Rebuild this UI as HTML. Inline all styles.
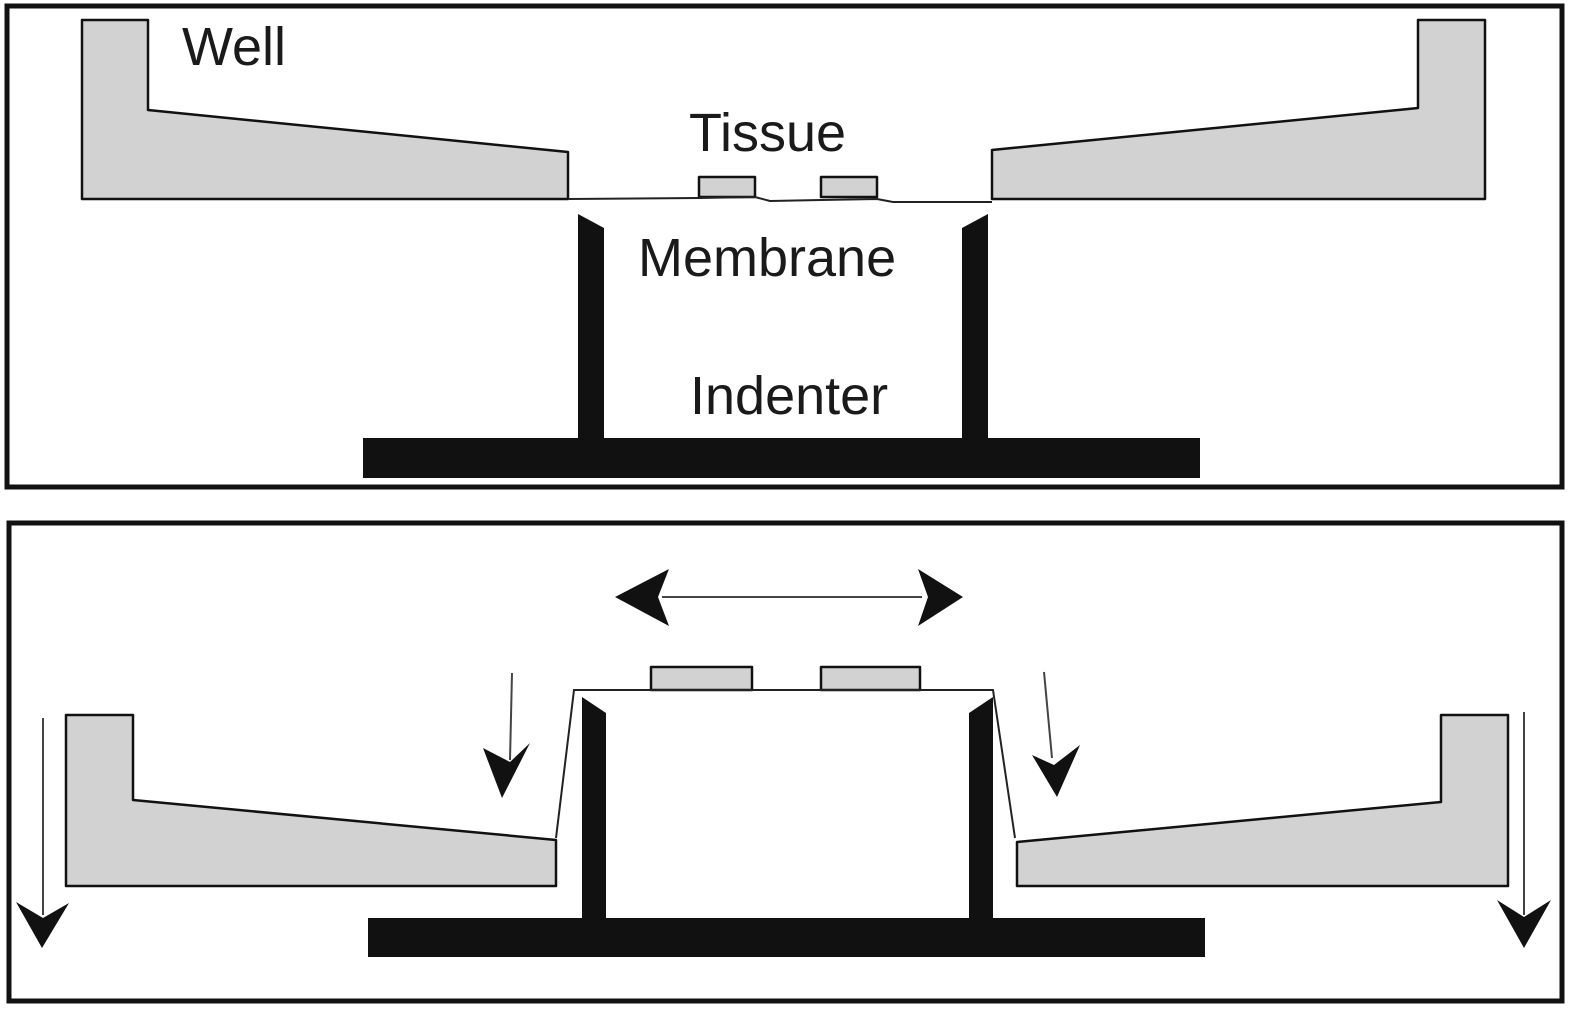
<!DOCTYPE html>
<html><head><meta charset="utf-8"><style>html,body{margin:0;padding:0;background:#fff}svg{display:block}</style></head>
<body>
<svg width="1583" height="1019" viewBox="0 0 1583 1019" xmlns="http://www.w3.org/2000/svg">
<rect x="0" y="0" width="1583" height="1019" fill="#fff"/>
<rect x="7" y="6" width="1555" height="481" fill="none" stroke="#111" stroke-width="5"/>
<rect x="9" y="523" width="1553" height="478" fill="none" stroke="#111" stroke-width="5"/>

<g fill="#d2d2d2" stroke="#111" stroke-width="2.5" stroke-linejoin="round">
<polygon points="82,20 148,20 148,110 568,152 568,199 82,199"/>
<polygon points="1485,20 1418,20 1418,108 992,150 992,199 1485,199"/>
<rect x="699" y="177" width="56" height="20"/>
<rect x="821" y="177" width="56" height="20"/>
</g>
<polyline points="568,199 699,198 755,197 770,201 821,200 877,199 893,202 992,202" fill="none" stroke="#222" stroke-width="2"/>
<g fill="#111">
<polygon points="578,214 604,228 604,440 578,440"/>
<polygon points="988,214 962,228 962,440 988,440"/>
<rect x="363" y="438" width="837" height="40"/>
</g>
<g font-family="Liberation Sans, sans-serif" font-size="54" fill="#1a1a1a">
<text x="182" y="65">Well</text>
<text x="689" y="151">Tissue</text>
<text x="638" y="276">Membrane</text>
<text x="690" y="414">Indenter</text>
</g>

<g fill="#d2d2d2" stroke="#111" stroke-width="2.5" stroke-linejoin="round">
<polygon points="66,715 133,715 133,800 556,840 556,886 66,886"/>
<polygon points="1508,715 1441,715 1441,802 1017,842 1017,886 1508,886"/>
<rect x="651" y="667" width="101" height="23"/>
<rect x="821" y="667" width="99" height="23"/>
</g>
<polyline points="556,838 574,690 993,690 1015,838" fill="none" stroke="#222" stroke-width="2"/>
<g fill="#111">
<polygon points="582,697 606,713 606,918 582,918"/>
<polygon points="993,697 969,713 969,918 993,918"/>
<rect x="368" y="918" width="837" height="39"/>
</g>
<g stroke="#444" stroke-width="2" fill="none">
<line x1="43" y1="718" x2="43" y2="915"/>
<line x1="1524" y1="712" x2="1524" y2="915"/>
<line x1="512" y1="673" x2="510" y2="760"/>
<line x1="1044" y1="672" x2="1052" y2="758"/>
<line x1="662" y1="597" x2="922" y2="597"/>
</g>
<g fill="#111">
<polygon points="16,902 43,918 69,903 42,948"/>
<polygon points="1497,900 1524,917 1551,900 1524,948"/>
<polygon points="483,748 510,762 530,743 502,798"/>
<polygon points="1032,755 1054,765 1080,745 1057,797"/>
<polygon points="615,597 669,569 658,597 669,626"/>
<polygon points="963,597 918,569 928,597 918,626"/>
</g>
</svg>
</body></html>
